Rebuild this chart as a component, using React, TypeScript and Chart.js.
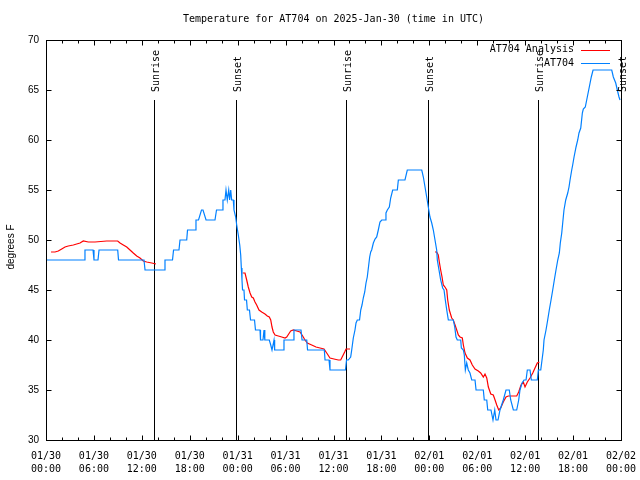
import React, { useEffect, useRef } from 'react';
import { Chart, registerables } from 'chart.js';

Chart.register(...registerables);

const MONO = '"DejaVu Sans Mono", "Liberation Mono", monospace';
const SANS = '"Liberation Sans", Arial, sans-serif';

const TITLE = 'Temperature for AT704 on 2025-Jan-30 (time in UTC)';
const Y_LABEL = 'degrees F';

// x axis: hours since 01/30 00:00 UTC
const xTickDates = ['01/30', '01/30', '01/30', '01/30', '01/31', '01/31', '01/31', '01/31', '02/01', '02/01', '02/01', '02/01', '02/02'];
const xTickTimes = ['00:00', '06:00', '12:00', '18:00', '00:00', '06:00', '12:00', '18:00', '00:00', '06:00', '12:00', '18:00', '00:00'];

const sunTimes = [13.55, 23.79, 37.57, 47.87, 61.62, 71.96];
const sunLabels = ['Sunrise', 'Sunset', 'Sunrise', 'Sunset', 'Sunrise', 'Sunset'];

const legendLabels = ['AT704 Analysis', 'AT704'];
const seriesColors = ['#ff0000', '#0080ff'];

// AT704 observations [hour, degF]
const at704Obs: Array<[number, number]> = [
  [0, 48], [4.76, 48], [4.88, 49], [5.89, 49], [6.01, 48], [6.51, 48], [6.64, 49], [8.98, 49], [9.08, 48], [12.27, 48],
  [12.4, 47], [14.78, 47], [14.9, 48], [15.84, 48], [15.97, 49], [16.65, 49], [16.78, 50], [17.62, 50], [17.72, 51], [18.66, 51],
  [18.78, 52], [19.1, 52], [19.47, 53], [19.66, 53], [20.04, 52], [21.16, 52], [21.35, 53], [22.1, 53], [22.16, 54], [22.41, 54],
  [22.54, 55], [22.7, 54], [22.88, 55], [23.0, 54], [23.13, 55], [23.25, 54], [23.45, 54], [23.54, 53], [23.75, 52.3], [23.88, 51.5],
  [24.08, 50.5], [24.26, 49.5], [24.38, 48.5], [24.46, 47.2], [24.54, 46], [24.61, 45], [24.79, 45], [24.86, 44], [25.11, 44], [25.21, 43],
  [25.48, 43], [25.61, 42], [26.11, 42], [26.23, 41], [26.8, 41], [26.86, 40], [27.17, 40], [27.3, 41], [27.4, 40], [27.96, 40],
  [28.14, 39.5], [28.3, 39], [28.42, 39], [28.55, 40], [28.63, 39], [29.71, 39], [29.8, 40], [30.97, 40], [31.05, 41], [31.93, 41],
  [32.06, 40], [32.65, 40], [32.75, 39], [34.85, 39], [34.94, 38], [35.44, 38], [35.56, 37], [37.5, 37], [37.63, 38], [37.85, 38],
  [38.15, 38.3], [38.28, 39], [38.48, 40.2], [38.69, 41], [38.82, 41.7], [38.98, 42], [39.26, 42], [39.41, 43], [39.57, 43.5], [39.73, 44.2],
  [39.91, 44.8], [40.07, 45.7], [40.23, 46.3], [40.41, 47.5], [40.53, 48.3], [40.66, 48.8], [40.78, 49], [40.99, 49.7], [41.2, 50.1], [41.41, 50.3],
  [41.61, 51], [41.82, 51.8], [42.04, 52], [42.45, 52], [42.57, 52.7], [42.74, 53], [42.99, 53.3], [43.16, 54.2], [43.41, 55], [43.99, 55],
  [44.12, 56], [44.95, 56], [45.24, 57], [47.05, 57], [47.25, 56.3], [47.46, 55.3], [47.67, 54.3], [47.87, 53.3], [48.08, 52.3], [48.3, 51.7],
  [48.5, 51], [48.71, 50], [48.92, 49], [49.0, 48], [49.21, 47], [49.42, 46], [49.67, 45.2], [49.84, 45], [50.0, 44], [50.18, 43],
  [50.38, 42], [51.0, 42], [51.18, 41.3], [51.34, 40.3], [51.5, 40], [51.93, 40], [52.01, 39.2], [52.26, 39], [52.38, 38.5], [52.51, 37],
  [52.68, 37.7], [52.88, 37], [53.09, 36.7], [53.31, 36], [53.72, 36], [53.85, 35], [54.76, 35], [54.88, 34], [55.19, 34], [55.31, 33],
  [55.72, 33], [55.97, 32], [56.19, 33], [56.35, 32], [56.6, 32], [56.85, 33], [57.26, 34], [57.6, 35], [58.01, 35], [58.19, 34],
  [58.52, 33], [58.94, 33], [59.19, 34], [59.35, 35], [59.61, 35.7], [59.86, 36], [60.11, 36], [60.27, 37], [60.61, 37], [60.77, 36],
  [61.52, 36], [61.65, 37], [61.95, 37], [62.11, 38], [62.27, 39], [62.36, 40], [62.61, 41], [62.82, 42], [63.02, 43], [63.24, 44],
  [63.45, 45], [63.65, 46], [63.86, 47], [64.08, 48], [64.28, 48.7], [64.4, 49.7], [64.58, 50.7], [64.7, 51.7], [64.86, 53], [65.08, 54],
  [65.33, 54.7], [65.49, 55.3], [65.62, 56], [65.83, 57], [65.95, 57.5], [66.12, 58.3], [66.37, 59.3], [66.58, 60], [66.74, 60.7], [66.96, 61.2],
  [67.16, 62.7], [67.28, 63.1], [67.53, 63.3], [67.78, 64.3], [68.03, 65.3], [68.28, 66.3], [68.5, 67], [70.84, 67], [71.04, 66.3], [71.34, 65.7],
  [71.54, 65], [71.75, 64.3], [71.88, 64],
];

// AT704 analysis [hour, degF]; null breaks the line during daytime
const at704Analysis: Array<[number, number | null]> = [
  [0.63, 48.8], [1.13, 48.8], [1.54, 48.9], [1.97, 49.1], [2.38, 49.3], [2.79, 49.4], [3.42, 49.5], [3.84, 49.6], [4.26, 49.7], [4.67, 49.9],
  [5.3, 49.8], [6.14, 49.8], [7.6, 49.9], [8.98, 49.9], [9.27, 49.7], [9.68, 49.5], [10.11, 49.3], [10.52, 49.0], [10.93, 48.7], [11.36, 48.4],
  [11.77, 48.2], [12.18, 47.9], [12.61, 47.8], [13.24, 47.7], [13.77, 47.6],
  [19, null],
  [24.63, 46.7], [24.92, 46.7], [25.13, 46.0], [25.33, 45.3], [25.55, 44.7], [25.76, 44.3], [25.96, 44.2], [26.17, 43.8], [26.38, 43.5], [26.67, 43.0],
  [27.01, 42.8], [27.42, 42.6], [27.71, 42.4], [27.96, 42.3], [28.14, 42.0], [28.3, 41.3], [28.46, 40.8], [28.68, 40.5], [29.09, 40.4], [29.52, 40.3],
  [29.93, 40.2], [30.14, 40.3], [30.39, 40.6], [30.64, 40.9], [30.97, 41.0], [31.39, 40.9], [31.81, 40.8], [32.14, 40.4], [32.43, 40.0], [32.72, 39.7],
  [33.27, 39.5], [33.81, 39.3], [34.31, 39.2], [34.81, 39.1], [35.15, 38.7], [35.56, 38.2], [36.06, 38.1], [36.6, 38.0], [36.9, 38.0], [37.15, 38.4],
  [37.4, 38.8], [37.57, 39.1], [38.07, 39.1],
  [43, null],
  [48.71, 48.8], [48.92, 48.8], [49.12, 48.5], [49.25, 47.8], [49.42, 47.0], [49.59, 46.3], [49.75, 45.5], [49.96, 45.3], [50.18, 45.0], [50.3, 44.0],
  [50.5, 43.0], [50.8, 42.2], [51.0, 42.0], [51.22, 41.5], [51.43, 41.0], [51.63, 40.5], [51.84, 40.3], [52.13, 40.2], [52.26, 39.5], [52.47, 38.7],
  [52.76, 38.2], [53.09, 38.0], [53.38, 37.5], [53.72, 37.1], [54.13, 36.9], [54.43, 36.7], [54.76, 36.3], [54.97, 36.6], [55.19, 36.2], [55.39, 35.3],
  [55.69, 34.6], [56.01, 34.5], [56.23, 34.0], [56.44, 33.5], [56.69, 33.0], [56.94, 33.2], [57.26, 33.8], [57.6, 34.3], [57.89, 34.4], [58.94, 34.4],
  [59.19, 34.8], [59.48, 35.5], [59.77, 35.8], [59.98, 35.3], [60.27, 35.8], [60.61, 36.2], [60.95, 36.7], [61.23, 37.2], [61.52, 37.7], [61.77, 37.8],
];

const X_MIN = 0;
const X_MAX = 72;
const Y_MIN = 30;
const Y_MAX = 70;
const SUN_LINE_TOP = 64;
const SUN_LABEL_START = 64.8;

const decorPlugin = {
  id: 'gnuplotDecor',
  beforeDatasetsDraw(chart: any) {
    const { ctx, chartArea, scales } = chart;
    const x = scales.x;
    const y = scales.y;
    ctx.save();
    ctx.strokeStyle = '#000';
    ctx.fillStyle = '#000';
    ctx.lineWidth = 1;
    sunTimes.forEach((t, i) => {
      const px = Math.round(x.getPixelForValue(t)) + 0.5;
      ctx.beginPath();
      ctx.moveTo(px, y.getPixelForValue(SUN_LINE_TOP));
      ctx.lineTo(px, chartArea.bottom);
      ctx.stroke();
      ctx.save();
      ctx.translate(px + 1.5, y.getPixelForValue(SUN_LABEL_START));
      ctx.rotate(-Math.PI / 2);
      ctx.font = `10px ${MONO}`;
      ctx.textAlign = 'left';
      ctx.textBaseline = 'middle';
      ctx.fillText(sunLabels[i], 0, 0);
      ctx.restore();
    });
    ctx.restore();
  },
  afterDraw(chart: any) {
    const { ctx, chartArea, scales } = chart;
    const x = scales.x;
    const y = scales.y;
    const l = Math.round(chartArea.left) + 0.5;
    const r = Math.round(chartArea.right) + 0.5;
    const t = Math.round(chartArea.top) + 0.5;
    const b = Math.round(chartArea.bottom) + 0.5;
    ctx.save();
    ctx.strokeStyle = '#000';
    ctx.fillStyle = '#000';
    ctx.lineWidth = 1;
    ctx.strokeRect(l, t, r - l, b - t);
    ctx.beginPath();
    for (let h = X_MIN; h <= X_MAX; h += 2) {
      const px = Math.round(x.getPixelForValue(h)) + 0.5;
      const len = h % 6 === 0 ? 5 : 3;
      ctx.moveTo(px, b);
      ctx.lineTo(px, b - len);
      ctx.moveTo(px, t);
      ctx.lineTo(px, t + len);
    }
    for (let v = Y_MIN; v <= Y_MAX; v += 5) {
      const py = Math.round(y.getPixelForValue(v)) + 0.5;
      ctx.moveTo(l, py);
      ctx.lineTo(l + 5, py);
      ctx.moveTo(r, py);
      ctx.lineTo(r - 5, py);
    }
    ctx.stroke();

    // title
    ctx.font = `10px ${MONO}`;
    ctx.textAlign = 'center';
    ctx.textBaseline = 'middle';
    ctx.fillText(TITLE, (chartArea.left + chartArea.right) / 2, 19);

    // y label
    ctx.save();
    ctx.translate(11, 247);
    ctx.rotate(-Math.PI / 2);
    ctx.font = `10px ${SANS}`;
    ctx.textAlign = 'center';
    ctx.textBaseline = 'middle';
    ctx.fillText(Y_LABEL, 0, 0);
    ctx.restore();

    // legend
    ctx.font = `10px ${MONO}`;
    ctx.textAlign = 'right';
    ctx.textBaseline = 'middle';
    legendLabels.forEach((lab, i) => {
      const ly = 49.5 + i * 13.5;
      ctx.fillStyle = '#000';
      ctx.fillText(lab, 574, ly);
      ctx.strokeStyle = seriesColors[i];
      ctx.beginPath();
      ctx.moveTo(581, Math.round(ly) + 0.5);
      ctx.lineTo(610, Math.round(ly) + 0.5);
      ctx.stroke();
    });
    ctx.restore();
  },
};

export default function App() {
  const canvasRef = useRef<HTMLCanvasElement | null>(null);

  useEffect(() => {
    const canvas = canvasRef.current;
    if (!canvas) return;
    const chart = new Chart(canvas, {
      type: 'line',
      data: {
        datasets: [
          {
            label: legendLabels[1],
            data: at704Obs.map(([h, v]) => ({ x: h, y: v })),
            borderColor: seriesColors[1],
            borderWidth: 1.2,
            pointRadius: 0,
            tension: 0,
            fill: false,
            order: 0,
          },
          {
            label: legendLabels[0],
            data: at704Analysis.map(([h, v]) => ({ x: h, y: v })),
            borderColor: seriesColors[0],
            borderWidth: 1.2,
            pointRadius: 0,
            tension: 0,
            fill: false,
            spanGaps: false,
            order: 1,
          },
        ],
      },
      options: {
        responsive: false,
        animation: false,
        devicePixelRatio: 1,
        layout: { padding: { top: 40, right: 19, left: 0, bottom: 0 } },
        plugins: {
          legend: { display: false },
          tooltip: { enabled: false },
          title: { display: false },
        },
        scales: {
          x: {
            type: 'linear',
            min: X_MIN,
            max: X_MAX,
            grid: { display: false, drawTicks: false },
            border: { display: false },
            ticks: {
              stepSize: 6,
              autoSkip: false,
              maxRotation: 0,
              minRotation: 0,
              padding: 10,
              color: '#000',
              font: { family: MONO, size: 10, lineHeight: 1.3 },
              callback: (_v: any, i: number) => [xTickDates[i], xTickTimes[i]],
            },
            afterFit: (s: any) => {
              s.height = 40;
              s.paddingLeft = 0;
              s.paddingRight = 0;
            },
          },
          y: {
            type: 'linear',
            min: Y_MIN,
            max: Y_MAX,
            grid: { display: false, drawTicks: false },
            border: { display: false },
            ticks: {
              stepSize: 5,
              padding: 7,
              color: '#000',
              font: { family: SANS, size: 10 },
            },
            afterFit: (s: any) => {
              s.width = 46;
              s.paddingTop = 0;
              s.paddingBottom = 0;
            },
          },
        },
      },
      plugins: [decorPlugin],
    });
    return () => chart.destroy();
  }, []);

  return (
    <div style={{ position: 'absolute', left: 0, top: 0, width: 640, height: 480, background: '#fff' }}>
      <canvas ref={canvasRef} width={640} height={480} style={{ width: 640, height: 480, display: 'block' }} />
    </div>
  );
}
